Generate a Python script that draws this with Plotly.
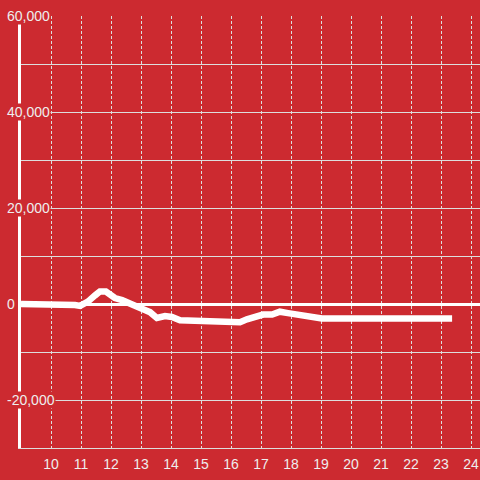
import plotly.graph_objects as go

# Data
hours = [9.0, 10.57, 10.8, 10.97, 11.23, 11.47, 11.63, 11.83, 12.13, 12.37, 12.63,
         12.9, 13.13, 13.3, 13.53, 13.8, 14.03, 14.3, 15.13, 15.37, 16.3, 16.53,
         16.8, 17.07, 17.37, 17.63, 17.9, 18.17, 18.4, 18.7, 19.03, 23.37]
values = [0, 0, -200, -400, 500, 1800, 2600, 2600, 1250, 800, 0,
          -900, -1250, -1700, -2900, -2500, -2700, -3400, -3500, -3800, -3800, -3200,
          -2600, -2200, -2200, -1600, -1900, -2100, -2400, -2800, -3000, -3000]

x_ticks = list(range(10, 25))
y_grid = list(range(-30000, 60001, 10000))
y_label_vals = [-20000, 0, 20000, 40000, 60000]
y_label_text = ["-20,000", "0", "20,000", "40,000", "60,000"]

BG = "#cc2a30"
GRID = "#dddddd"
TXT = "#eeeeee"
FONT = "Liberation Sans, Arial, sans-serif"

fig = go.Figure()
fig.add_trace(go.Scatter(
    x=hours, y=values, mode="lines",
    line=dict(color="#ffffff", width=6.5),
    hoverinfo="skip", showlegend=False,
))

for v, t in zip(y_label_vals, y_label_text):
    fig.add_annotation(
        x=0, xref="paper", y=v, yref="y", text=t,
        xanchor="left", yanchor="middle", xshift=-15,
        showarrow=False, bgcolor=BG, borderpad=0,
        font=dict(family=FONT, size=14, color=TXT),
    )

fig.update_layout(
    width=480, height=480,
    margin=dict(l=21, r=0, t=16, b=32),
    paper_bgcolor=BG, plot_bgcolor=BG,
    font=dict(family=FONT, size=14, color=TXT),
    showlegend=False,
    xaxis=dict(
        range=[9, 24.3], tickvals=x_ticks, ticktext=[str(t) for t in x_ticks],
        showgrid=True, gridcolor=GRID, gridwidth=1, griddash="3px,2px",
        zeroline=False, showline=True, linecolor=GRID, linewidth=1,
        ticks="outside", ticklen=3, tickcolor=BG,
        tickfont=dict(family=FONT, size=14, color=TXT),
    ),
    yaxis=dict(
        range=[-30000, 60000], tickvals=y_grid, showticklabels=False,
        showgrid=True, gridcolor=GRID, gridwidth=1,
        zeroline=True, zerolinecolor="#ffffff", zerolinewidth=3,
        showline=True, linecolor="#ffffff", linewidth=3,
        ticks="",
    ),
)

fig.write_html(
    "out.html",
    config={"displayModeBar": False},
    post_script="document.body.style.margin='0';document.body.style.overflow='hidden';",
)
